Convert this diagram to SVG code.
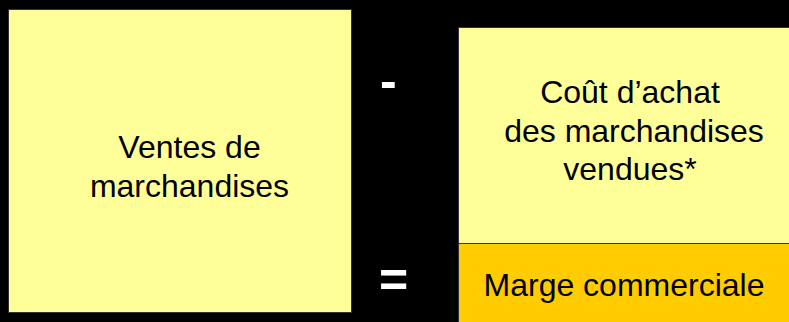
<svg xmlns="http://www.w3.org/2000/svg" width="789" height="322" viewBox="0 0 789 322">
<style>
.t{font-family:"Liberation Sans",Arial,sans-serif;font-size:32px;fill:#000;text-anchor:middle}
.op{font-family:"Liberation Sans",Arial,sans-serif;font-size:50px;font-weight:bold;fill:#fff}
.box{fill:#ffff99;stroke:#333;stroke-width:1}
</style>
<rect width="789" height="322" fill="#000"/>
<g id="ventes">
<rect class="box" x="8.5" y="9.5" width="343" height="303"/>
<text class="t" x="189.5" y="158">Ventes de</text>
<text class="t" x="189.5" y="197">marchandises</text>
</g>
<g id="cout">
<rect class="box" x="458.5" y="27.5" width="335" height="216"/>
<text class="t" x="630" y="103">Coût d’achat</text>
<text class="t" x="634" y="141.5">des marchandises</text>
<text class="t" x="630" y="180">vendues*</text>
</g>
<g id="marge">
<rect x="458.5" y="243.5" width="335" height="85" fill="#ffcc00" stroke="#333" stroke-width="1"/>
<text class="t" x="624" y="296">Marge commerciale</text>
</g>
<g id="operators">
<text class="op" x="380" y="97.5">-</text>
<text class="op" x="379" y="297">=</text>
</g>
</svg>
